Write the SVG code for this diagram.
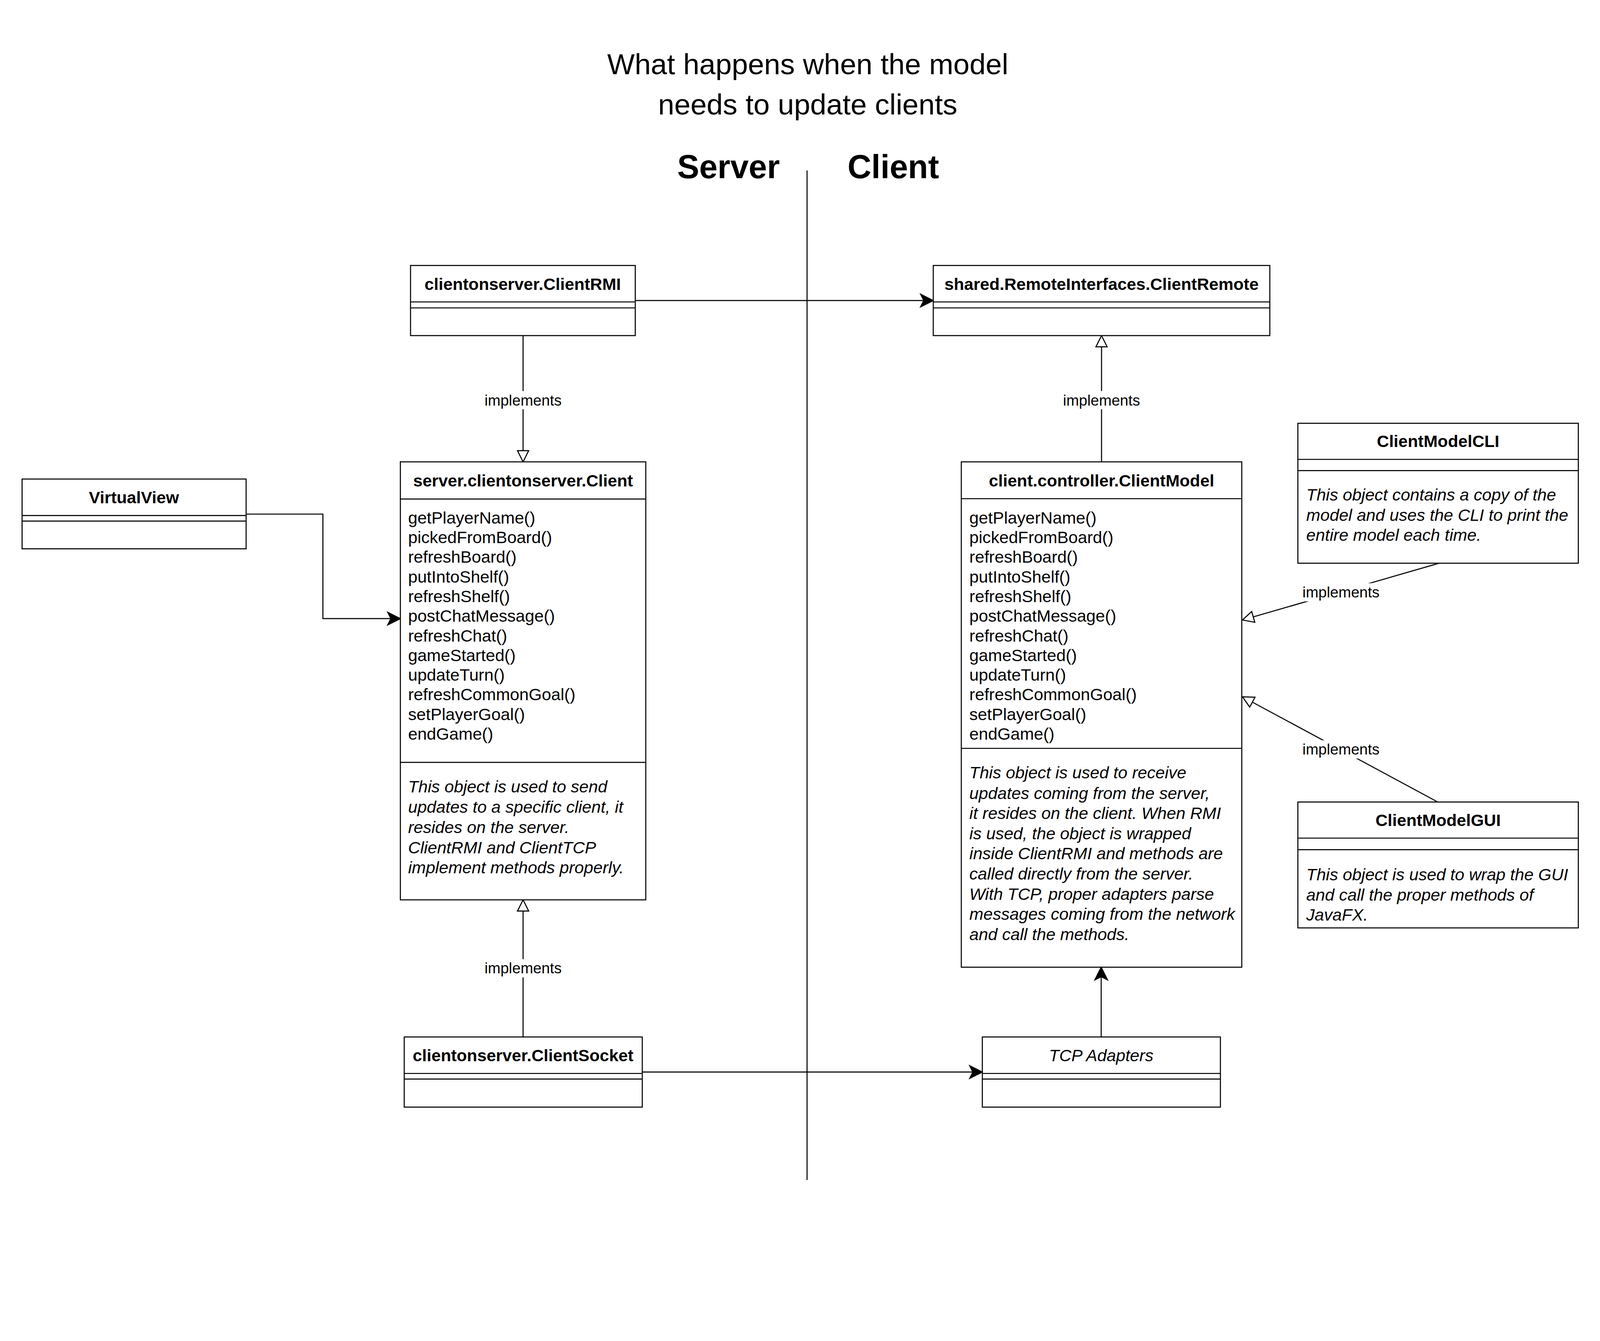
<svg xmlns="http://www.w3.org/2000/svg" width="4564" height="3432" viewBox="0 0 4564 3432">
<defs>
<style>
.bg{fill:#fff}
.box{fill:#fff;stroke:#000;stroke-width:3}
.ln{stroke:#000;stroke-width:3;fill:none}
text{font-family:"Liberation Sans",Arial,Helvetica,sans-serif;fill:#000}
.t{font-size:48px}
.h{font-size:48px;font-weight:bold;text-anchor:middle}
.i{font-style:italic}
.lbl{font-size:43px;text-anchor:middle}
.lblbg{fill:#fff;stroke:none}
@media (max-width: 4500px){
#diagram{transform:scale(0.8975);transform-origin:0 0}
}
</style>
<marker id="classic" markerUnits="userSpaceOnUse" markerWidth="60" markerHeight="60" viewBox="-45 -30 60 60" refX="0" refY="0" orient="auto" overflow="visible">
<path d="M0,0 L-36,-18 L-27,0 L-36,18 Z" fill="#000" stroke="#000" stroke-width="3" stroke-linejoin="miter"/>
</marker>
<marker id="block" markerUnits="userSpaceOnUse" markerWidth="60" markerHeight="60" viewBox="-45 -30 60 60" refX="0" refY="0" orient="auto" overflow="visible">
<path d="M0,0 L-32,-16 L-32,16 Z" fill="#fff" stroke="#000" stroke-width="3"/>
</marker>
</defs>
<rect class="bg" x="0" y="0" width="4564" height="3432"/>

<g id="diagram">
<g id="title">
<text x="2304" y="212" font-size="83" text-anchor="middle">What happens when the model</text>
<text x="2304" y="327" font-size="83" text-anchor="middle">needs to update clients</text>
<text x="2078" y="508" font-size="94" font-weight="bold" text-anchor="middle">Server</text>
<text x="2548" y="508" font-size="94" font-weight="bold" text-anchor="middle">Client</text>
</g>

<g id="divider">
<line class="ln" x1="2302" y1="486" x2="2302" y2="3365"/>
</g>

<g id="connectors">
<path class="ln" d="M1812,857 L2662,857" marker-end="url(#classic)"/>
<path class="ln" d="M702,1466 L921,1466 L921,1764 L1142,1764" marker-end="url(#classic)"/>
<path class="ln" d="M1492,957 L1492,1317" marker-end="url(#block)"/>
<path class="ln" d="M1492,2957 L1492,2566" marker-end="url(#block)"/>
<path class="ln" d="M3142,1317 L3142,957" marker-end="url(#block)"/>
<path class="ln" d="M4105,1606 L3544,1768" marker-end="url(#block)"/>
<path class="ln" d="M4101,2287 L3544,1987" marker-end="url(#block)"/>
<path class="ln" d="M1832,3057 L2802,3057" marker-end="url(#classic)"/>
<path class="ln" d="M3141,2957 L3141,2758" marker-end="url(#classic)"/>
<rect class="lblbg" x="1380" y="1115" width="224" height="52"/>
<text class="lbl" x="1492" y="1156">implements</text>
<rect class="lblbg" x="1380" y="2735" width="224" height="52"/>
<text class="lbl" x="1492" y="2776">implements</text>
<rect class="lblbg" x="3030" y="1115" width="224" height="52"/>
<text class="lbl" x="3142" y="1156">implements</text>
<rect class="lblbg" x="3713" y="1663" width="224" height="52"/>
<text class="lbl" x="3825" y="1704">implements</text>
<rect class="lblbg" x="3713" y="2111" width="224" height="52"/>
<text class="lbl" x="3825" y="2152">implements</text>
</g>

<g id="VirtualView">
<rect class="box" x="63" y="1366" width="639" height="199"/>
<line class="ln" x1="63" y1="1470" x2="702" y2="1470"/>
<line class="ln" x1="63" y1="1486" x2="702" y2="1486"/>
<text class="h" x="382" y="1435">VirtualView</text>
</g>

<g id="ClientRMI">
<rect class="box" x="1171" y="757" width="641" height="200"/>
<line class="ln" x1="1171" y1="861" x2="1812" y2="861"/>
<line class="ln" x1="1171" y1="878" x2="1812" y2="878"/>
<text class="h" x="1491" y="827">clientonserver.ClientRMI</text>
</g>

<g id="ClientRemote">
<rect class="box" x="2662" y="757" width="960" height="200"/>
<line class="ln" x1="2662" y1="861" x2="3622" y2="861"/>
<line class="ln" x1="2662" y1="878" x2="3622" y2="878"/>
<text class="h" x="3142" y="827">shared.RemoteInterfaces.ClientRemote</text>
</g>

<g id="Client">
<rect class="box" x="1142" y="1317" width="700" height="1249"/>
<line class="ln" x1="1142" y1="1423" x2="1842" y2="1423"/>
<line class="ln" x1="1142" y1="2174" x2="1842" y2="2174"/>
<text class="h" x="1492" y="1387">server.clientonserver.Client</text>
<text class="t" x="1164" y="1493">getPlayerName()</text>
<text class="t" x="1164" y="1549">pickedFromBoard()</text>
<text class="t" x="1164" y="1605">refreshBoard()</text>
<text class="t" x="1164" y="1661">putIntoShelf()</text>
<text class="t" x="1164" y="1717">refreshShelf()</text>
<text class="t" x="1164" y="1773">postChatMessage()</text>
<text class="t" x="1164" y="1829">refreshChat()</text>
<text class="t" x="1164" y="1885">gameStarted()</text>
<text class="t" x="1164" y="1941">updateTurn()</text>
<text class="t" x="1164" y="1997">refreshCommonGoal()</text>
<text class="t" x="1164" y="2053">setPlayerGoal()</text>
<text class="t" x="1164" y="2109">endGame()</text>
<text class="t i" x="1164" y="2260">This object is used to send</text>
<text class="t i" x="1164" y="2318">updates to a specific client, it</text>
<text class="t i" x="1164" y="2375">resides on the server.</text>
<text class="t i" x="1164" y="2433">ClientRMI and ClientTCP</text>
<text class="t i" x="1164" y="2490">implement methods properly.</text>
</g>

<g id="ClientModel">
<rect class="box" x="2742" y="1317" width="800" height="1441"/>
<line class="ln" x1="2742" y1="1422" x2="3542" y2="1422"/>
<line class="ln" x1="2742" y1="2134" x2="3542" y2="2134"/>
<text class="h" x="3142" y="1387">client.controller.ClientModel</text>
<text class="t" x="2765" y="1493">getPlayerName()</text>
<text class="t" x="2765" y="1549">pickedFromBoard()</text>
<text class="t" x="2765" y="1605">refreshBoard()</text>
<text class="t" x="2765" y="1661">putIntoShelf()</text>
<text class="t" x="2765" y="1717">refreshShelf()</text>
<text class="t" x="2765" y="1773">postChatMessage()</text>
<text class="t" x="2765" y="1829">refreshChat()</text>
<text class="t" x="2765" y="1885">gameStarted()</text>
<text class="t" x="2765" y="1941">updateTurn()</text>
<text class="t" x="2765" y="1997">refreshCommonGoal()</text>
<text class="t" x="2765" y="2053">setPlayerGoal()</text>
<text class="t" x="2765" y="2109">endGame()</text>
<text class="t i" x="2765" y="2220">This object is used to receive</text>
<text class="t i" x="2765" y="2278">updates coming from the server,</text>
<text class="t i" x="2765" y="2335">it resides on the client. When RMI</text>
<text class="t i" x="2765" y="2393">is used, the object is wrapped</text>
<text class="t i" x="2765" y="2450">inside ClientRMI and methods are</text>
<text class="t i" x="2765" y="2508">called directly from the server.</text>
<text class="t i" x="2765" y="2566">With TCP, proper adapters parse</text>
<text class="t i" x="2765" y="2623">messages coming from the network</text>
<text class="t i" x="2765" y="2681">and call the methods.</text>
</g>

<g id="ClientModelCLI">
<rect class="box" x="3702" y="1207" width="800" height="399"/>
<line class="ln" x1="3702" y1="1310" x2="4502" y2="1310"/>
<line class="ln" x1="3702" y1="1342" x2="4502" y2="1342"/>
<text class="h" x="4102" y="1275">ClientModelCLI</text>
<text class="t i" x="3726" y="1427">This object contains a copy of the</text>
<text class="t i" x="3726" y="1485">model and uses the CLI to print the</text>
<text class="t i" x="3726" y="1542">entire model each time.</text>
</g>

<g id="ClientModelGUI">
<rect class="box" x="3702" y="2287" width="800" height="359"/>
<line class="ln" x1="3702" y1="2390" x2="4502" y2="2390"/>
<line class="ln" x1="3702" y1="2423" x2="4502" y2="2423"/>
<text class="h" x="4102" y="2355">ClientModelGUI</text>
<text class="t i" x="3726" y="2510">This object is used to wrap the GUI</text>
<text class="t i" x="3726" y="2568">and call the proper methods of</text>
<text class="t i" x="3726" y="2625">JavaFX.</text>
</g>

<g id="ClientSocket">
<rect class="box" x="1153" y="2957" width="679" height="200"/>
<line class="ln" x1="1153" y1="3061" x2="1832" y2="3061"/>
<line class="ln" x1="1153" y1="3077" x2="1832" y2="3077"/>
<text class="h" x="1492" y="3026">clientonserver.ClientSocket</text>
</g>

<g id="TCPAdapters">
<rect class="box" x="2802" y="2957" width="679" height="200"/>
<line class="ln" x1="2802" y1="3061" x2="3481" y2="3061"/>
<line class="ln" x1="2802" y1="3077" x2="3481" y2="3077"/>
<text class="t i" x="3141" y="3026" text-anchor="middle">TCP Adapters</text>
</g>
</g>
</svg>
